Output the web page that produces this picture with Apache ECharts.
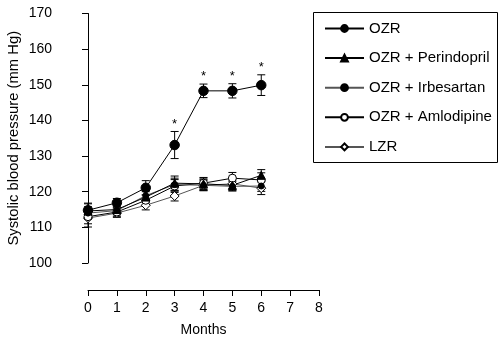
<!DOCTYPE html>
<html>
<head>
<meta charset="utf-8">
<script src="https://cdn.jsdelivr.net/npm/echarts@6/dist/echarts.min.js"></script>
<style>html,body{margin:0;padding:0;background:#fff}#c{width:500px;height:337px}</style>
</head>
<body>
<div id="c"></div>
<script>
var months = [0, 1, 2, 3, 4, 5, 6];
var xTicks = [0, 1, 2, 3, 4, 5, 6, 7, 8];
var yTicks = [100, 110, 120, 130, 140, 150, 160, 170];

var ozr = [114.8, 116.9, 121.1, 133.1, 148.3, 148.3, 149.9];
var ozrErr = [2.0, 1.2, 2.0, 3.8, 1.9, 2.0, 2.9];
var perindopril = [114.6, 115.0, 118.5, 122.4, 122.2, 121.8, 124.6];
var perindoprilErr = [2.0, 1.2, 1.5, 2.0, 1.6, 1.5, 1.6];
var irbesartan = [114.0, 114.7, 118.9, 122.0, 121.8, 121.5, 121.6];
var irbesartanErr = [1.8, 1.2, 1.5, 1.8, 1.5, 1.3, 1.5];
var amlodipine = [113.0, 114.3, 117.6, 121.6, 122.4, 123.8, 123.3];
var amlodipineErr = [2.0, 1.2, 1.5, 1.8, 1.6, 1.6, 2.0];
var lzr = [112.6, 114.0, 116.2, 118.8, 121.8, 122.2, 121.0];
var lzrErr = [2.5, 1.2, 1.3, 1.4, 1.5, 1.6, 1.8];
var ozrSignificant = [false, false, false, true, true, true, true];

var names = ['OZR', 'OZR + Perindopril', 'OZR + Irbesartan', 'OZR + Amlodipine', 'LZR'];
var FONT = 'Liberation Sans, Arial, Helvetica, sans-serif';

function pairs(vals) { return months.map(function (m, i) { return [m, vals[i]]; }); }
function errData(vals, errs, sig) {
  return months.map(function (m, i) { return [m, vals[i] - errs[i], vals[i] + errs[i], sig && sig[i] ? 1 : 0]; });
}
function errSeries(vals, errs, sig) {
  return {
    type: 'custom',
    silent: true,
    z: 1,
    data: errData(vals, errs, sig),
    renderItem: function (params, api) {
      var x = api.value(0);
      var lo = api.coord([x, api.value(1)]);
      var hi = api.coord([x, api.value(2)]);
      var w = 4;
      var st = { stroke: '#000', lineWidth: 1 };
      var children = [
        { type: 'line', shape: { x1: lo[0], y1: lo[1], x2: hi[0], y2: hi[1] }, style: st },
        { type: 'line', shape: { x1: hi[0] - w, y1: hi[1], x2: hi[0] + w, y2: hi[1] }, style: st },
        { type: 'line', shape: { x1: lo[0] - w, y1: lo[1], x2: lo[0] + w, y2: lo[1] }, style: st }
      ];
      if (api.value(3)) {
        children.push({ type: 'text', style: { text: '*', x: hi[0], y: hi[1] - 1, align: 'center', verticalAlign: 'bottom', fill: '#000', font: '13px ' + FONT } });
      }
      return { type: 'group', children: children };
    }
  };
}
function lineSeries(name, vals, symbol, size, fill, lineColor) {
  return {
    name: name, type: 'line', data: pairs(vals), z: 3,
    symbol: symbol, symbolSize: size, showAllSymbol: true,
    lineStyle: { color: lineColor, width: 1 },
    itemStyle: { color: fill, borderColor: '#000', borderWidth: 1, opacity: 1 },
    emphasis: { disabled: true }
  };
}

var chart = echarts.init(document.getElementById('c'), null, { renderer: 'canvas' });
chart.setOption({
  animation: false,
  textStyle: { fontFamily: FONT },
  grid: { left: 88, right: 181, top: 13.5, bottom: 74, containLabel: false, outerBoundsMode: 'none' },
  xAxis: {
    type: 'value', min: xTicks[0], max: xTicks[xTicks.length - 1], interval: 1,
    offset: 27,
    name: 'Months', nameLocation: 'middle', nameGap: 33,
    nameTextStyle: { fontSize: 14, color: '#000', fontFamily: FONT },
    axisLine: { lineStyle: { color: '#000', width: 1 } },
    axisTick: { show: true, length: 6, lineStyle: { color: '#000' } },
    axisLabel: { fontSize: 14, color: '#000', margin: 11, fontFamily: FONT },
    splitLine: { show: false }
  },
  yAxis: {
    type: 'value', min: yTicks[0], max: yTicks[yTicks.length - 1], interval: 10,
    offset: 26,
    name: 'Systolic blood pressure (mm Hg)', nameLocation: 'middle', nameGap: 41,
    nameTextStyle: { fontSize: 14.8, color: '#000', fontFamily: FONT },
    axisLine: { show: true, lineStyle: { color: '#000', width: 1 } },
    axisTick: { show: true, length: 6, lineStyle: { color: '#000' } },
    axisLabel: { fontSize: 14, color: '#000', margin: 10, fontFamily: FONT },
    splitLine: { show: false }
  },
  legend: {
    orient: 'vertical', left: 319, top: 16,
    itemWidth: 39, itemHeight: 8.5, itemGap: 14.6,
    textStyle: { fontSize: 15, color: '#000', fontFamily: FONT },
    data: names
  },
  graphic: [
    { type: 'rect', shape: { x: 313.5, y: 12.5, width: 184, height: 150 }, style: { fill: 'none', stroke: '#000', lineWidth: 1 } }
  ],
  series: [
    errSeries(lzr, lzrErr),
    errSeries(amlodipine, amlodipineErr),
    errSeries(irbesartan, irbesartanErr),
    errSeries(perindopril, perindoprilErr),
    errSeries(ozr, ozrErr, ozrSignificant),
    lineSeries(names[4], lzr, 'diamond', 9, '#fff', '#555'),
    lineSeries(names[3], amlodipine, 'circle', 8, '#fff', '#000'),
    lineSeries(names[2], irbesartan, 'circle', 6, '#000', '#555'),
    lineSeries(names[1], perindopril, 'triangle', 8, '#000', '#000'),
    lineSeries(names[0], ozr, 'circle', 9.5, '#000', '#000')
  ]
});
</script>
</body>
</html>
